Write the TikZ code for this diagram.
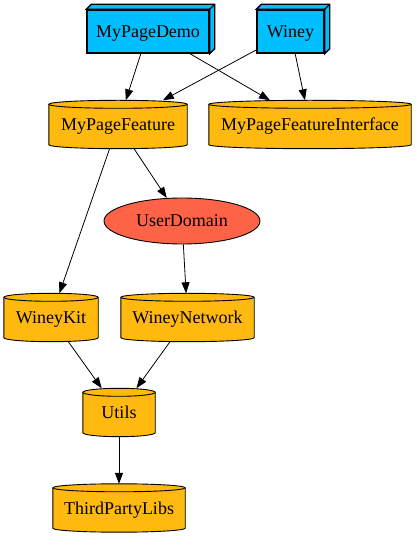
\documentclass[tikz,border=0pt]{standalone}
\usepackage{fontspec}
\setmainfont{Liberation Serif}
\usetikzlibrary{arrows.meta,shapes.geometric,backgrounds,calc}
\definecolor{skyb}{HTML}{00BFFF}
\definecolor{gold}{HTML}{FFB90F}
\definecolor{tom}{HTML}{FF6347}
\begin{document}
\begin{tikzpicture}[x=1pt,y=1pt,
  lbl/.style={font=\fontsize{18}{18}\selectfont, inner sep=0pt, text depth=0pt},
  boxnode/.style={lbl, draw, fill=skyb, line width=1.4pt, minimum height=43pt},
  cylnode/.style={lbl, minimum height=48pt},
  ellnode/.style={lbl, ellipse, draw, fill=tom, line width=0.9pt, minimum width=156pt, minimum height=46pt},
  boxface/.style={draw, fill=skyb, line width=1.4pt, line join=miter},
  cylbody/.style={draw, fill=gold, line width=0.9pt},
  cylline/.style={draw, line width=0.9pt},
  conn/.style={-{Triangle[length=11pt,width=8pt]}, line width=0.8pt}]
\useasboundingbox (0,0) rectangle (416,539);
% nodes
\node[boxnode, minimum width=122pt] (mpd) at (148,507.5) {MyPageDemo};
\node[boxnode, minimum width=67pt] (winey) at (290.5,507.5) {Winey};
\node[cylnode, minimum width=138pt] (mpf) at (118,414.5) {MyPageFeature};
\node[cylnode, minimum width=202pt] (mpfi) at (310,414.5) {MyPageFeatureInterface};
\node[ellnode] (ud) at (182,318) {UserDomain};
\node[cylnode, minimum width=94pt] (wk) at (51,221.5) {WineyKit};
\node[cylnode, minimum width=133pt] (wn) at (187.5,221.5) {WineyNetwork};
\node[cylnode, minimum width=72pt] (ut) at (119,126.5) {Utils};
\node[cylnode, minimum width=132pt] (tpl) at (119,31) {ThirdPartyLibs};
% shapes behind
\begin{scope}[on background layer]
\foreach \nd in {mpf,mpfi,wk,wn,ut,tpl}{
  \path[cylbody] let \p1=(\nd.north west), \p2=(\nd.south east), \n1={(\x2-\x1)/2} in
    (\x1,\y1-4pt) -- (\x1,\y2+4pt) arc[start angle=180,end angle=360,x radius=\n1,y radius=4pt]
    -- (\x2,\y1-4pt) arc[start angle=0,end angle=180,x radius=\n1,y radius=4pt] -- cycle;
  \path[cylline] let \p1=(\nd.north west), \p2=(\nd.south east), \n1={(\x2-\x1)/2} in
    (\x1,\y1-4pt) arc[start angle=180,end angle=360,x radius=\n1,y radius=4pt];
}
\end{scope}
\foreach \nd in {mpd,winey}{
  \path[boxface] (\nd.north west) -- ++(5,5) -| ([shift={(5,5)}]\nd.south east)
    -- (\nd.south east) -- (\nd.north east) -- cycle;
  \draw[line width=1.4pt] (\nd.north east) -- ++(5,5);
}
% connectors
\draw[conn] (mpd) -- (mpf);
\draw[conn] ([xshift=42pt]mpd.south) -- ([xshift=-40pt]mpfi.north);
\draw[conn] (winey) -- (mpf);
\draw[conn] (winey) -- (mpfi);
\draw[conn] (mpf) -- (wk);
\draw[conn] (mpf) -- (ud);
\draw[conn] (ud) -- (wn);
\draw[conn] (wk) -- (ut);
\draw[conn] (wn) -- (ut);
\draw[conn] (ut) -- (tpl);
\end{tikzpicture}
\end{document}
